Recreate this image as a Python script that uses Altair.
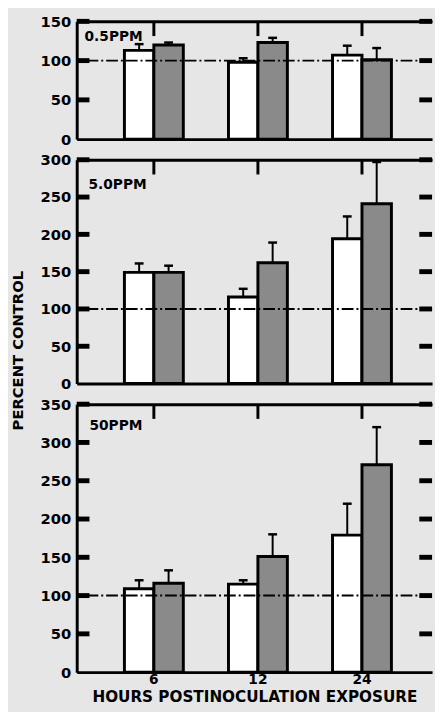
import altair as alt
import pandas as pd

hours = ["6", "12", "24"]
series = ["open", "shaded"]
ref_level = 100

panel_names = ["0.5PPM", "5.0PPM", "50PPM"]
panel_ymax = [150, 300, 350]
tick_step = 50

# 0.5 PPM
p1_open = [113, 98, 107]
p1_open_err = [121, 103, 119]
p1_shaded = [120, 123, 101]
p1_shaded_err = [123, 129, 116]
# 5.0 PPM
p2_open = [149, 116, 194]
p2_open_err = [161, 127, 224]
p2_shaded = [149, 162, 241]
p2_shaded_err = [158, 189, 297]
# 50 PPM
p3_open = [109, 115, 179]
p3_open_err = [120, 120, 220]
p3_shaded = [116, 151, 271]
p3_shaded_err = [133, 180, 320]

FONT = "DejaVu Sans"
W = 362
TICK = 13


def make_df(o, oe, s, se):
    rows = []
    for i, h in enumerate(hours):
        rows.append({"hour": h, "series": "open", "value": o[i], "err": oe[i]})
        rows.append({"hour": h, "series": "shaded", "value": s[i], "err": se[i]})
    return pd.DataFrame(rows)


def panel(df, label, ymax, H, lab_x, lab_y, show_x, ytitle):
    yvals = list(range(0, ymax + 1, tick_step))
    ysc = alt.Scale(domain=[0, ymax], nice=False, zero=True)
    xsc = alt.Scale(domain=hours, paddingInner=0.434, paddingOuter=0.4245, align=0.54)
    osc = alt.Scale(domain=series, paddingInner=0, paddingOuter=0)
    XO = alt.XOffset("series:N", scale=osc)

    axXA_kw = dict(orient="bottom", labels=show_x, ticks=False, domain=True,
                   domainWidth=3, labelAngle=0, labelPadding=1, labelFontSize=14, grid=False)
    if show_x:
        axXA_kw.update(title="HOURS POSTINOCULATION EXPOSURE", titlePadding=3,
                       titleFontSize=15.5)
    else:
        axXA_kw.update(title=None)
    axXA = alt.Axis(**axXA_kw)
    # top frame line
    axXD = alt.Axis(orient="bottom", offset=-H, labels=False, ticks=False,
                    domain=True, domainWidth=3, grid=False, title=None)

    axYA_kw = dict(orient="left", values=yvals, labels=True, ticks=False, domain=False,
                   grid=False, labelPadding=6)
    if ytitle:
        axYA_kw.update(title="PERCENT CONTROL", titleAngle=270, titleX=-60, titleY=194,
                       titleAlign="center", titleBaseline="middle", titleFontSize=15)
    else:
        axYA_kw.update(title=None)
    axYA = alt.Axis(**axYA_kw)
    # left frame line
    axYB = alt.Axis(orient="right", offset=-W, values=yvals, labels=False, ticks=False,
                    domain=True, domainWidth=3, grid=False, title=None)

    base = alt.Chart(df)
    bars = base.mark_bar(stroke="black", strokeWidth=3).encode(
        x=alt.X("hour:N", scale=xsc, axis=axXA),
        xOffset=XO,
        y=alt.Y("value:Q", scale=ysc, axis=axYA),
        fill=alt.Fill("series:N", scale=alt.Scale(domain=series, range=["white", "#8a8a8a"]), legend=None),
    )
    err = base.mark_rule(strokeWidth=2, color="black").encode(
        x=alt.X("hour:N", scale=xsc, axis=axXD),
        xOffset=XO,
        y=alt.Y("value:Q", scale=ysc, axis=axYB),
        y2="err:Q",
    )
    caps = base.mark_tick(size=9, thickness=2.5, color="black", opacity=1).encode(
        x=alt.X("hour:N", scale=xsc, axis=None),
        xOffset=XO,
        y=alt.Y("err:Q", scale=ysc, axis=None),
    )
    ref = alt.Chart(pd.DataFrame({"ref": [ref_level]})).mark_rule(
        strokeDash=[12, 3, 2, 3], strokeWidth=2, color="black"
    ).encode(y=alt.Y("ref:Q", scale=ysc, axis=None))

    tdf = pd.DataFrame({"v": yvals[1:]})
    lticks = alt.Chart(tdf).mark_rule(strokeWidth=5, color="black").encode(
        y=alt.Y("v:Q", scale=ysc, axis=None), x=alt.value(0), x2=alt.value(TICK))
    rticks = alt.Chart(tdf).mark_rule(strokeWidth=5, color="black").encode(
        y=alt.Y("v:Q", scale=ysc, axis=None), x=alt.value(W - TICK), x2=alt.value(W))
    tticks = alt.Chart(pd.DataFrame({"hour": hours})).mark_rule(strokeWidth=3, color="black").encode(
        x=alt.X("hour:N", scale=xsc, axis=None), y=alt.value(0), y2=alt.value(15))

    lab = alt.Chart(pd.DataFrame({"t": [label]})).mark_text(
        align="left", baseline="alphabetic", font=FONT, fontSize=14, fontWeight="bold", color="black"
    ).encode(x=alt.value(lab_x), y=alt.value(lab_y), text="t:N")

    return alt.layer(bars, err, caps, ref, lticks, rticks, tticks, lab).properties(
        width=W, height=H).resolve_axis(x="independent", y="independent")


df1 = make_df(p1_open, p1_open_err, p1_shaded, p1_shaded_err)
df2 = make_df(p2_open, p2_open_err, p2_shaded, p2_shaded_err)
df3 = make_df(p3_open, p3_open_err, p3_shaded, p3_shaded_err)

c1 = panel(df1, panel_names[0], panel_ymax[0], 120, 8, 20, False, False)
c2 = panel(df2, panel_names[1], panel_ymax[1], 228, 12, 30, False, True)
c3 = panel(df3, panel_names[2], panel_ymax[2], 273, 13, 26, True, False)

chart = alt.vconcat(c1, c2, c3, spacing=21, bounds="flush").properties(
    padding={"left": 3, "top": 0, "right": 0, "bottom": 0},
    background="#e6e6e6",
).configure_view(strokeWidth=0).configure_axis(
    labelFont=FONT, labelFontSize=15, labelFontWeight="bold", labelColor="black",
    titleFont=FONT, titleFontSize=16, titleFontWeight="bold", titleColor="black",
    domainColor="black", tickColor="black",
)

chart.save("out.html", embed_options={"renderer": "svg", "actions": False})
